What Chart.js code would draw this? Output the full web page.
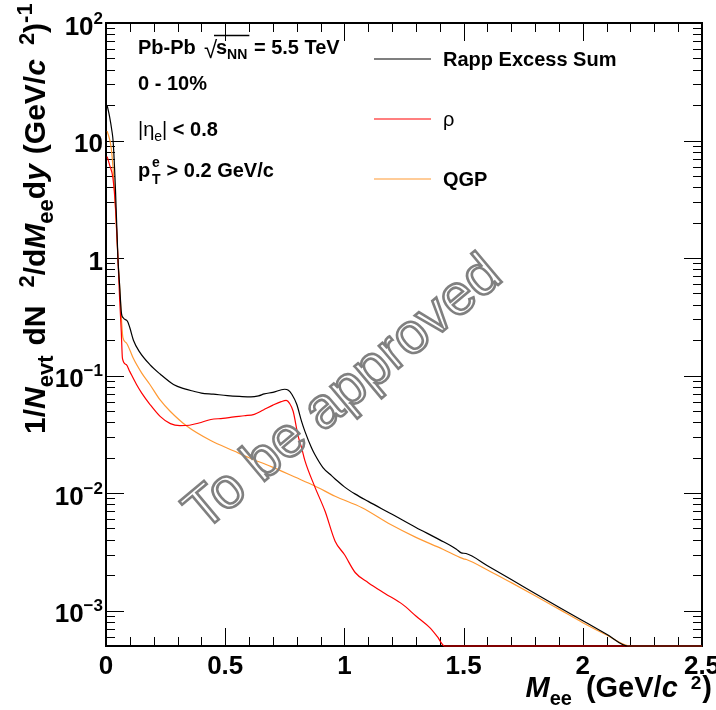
<!DOCTYPE html>
<html>
<head>
<meta charset="utf-8">
<script src="https://cdn.jsdelivr.net/npm/chart.js@4"></script>
<style>
html, body { margin: 0; background: #fff; }
canvas { display: block; }
</style>
</head>
<body>
<canvas id="chart" width="716" height="710"></canvas>
<script>
// Rapp excess sum (black)
const sumMass = [0.005, 0.015, 0.025, 0.03, 0.04, 0.05, 0.058, 0.064, 0.072, 0.09, 0.1, 0.115, 0.14, 0.184, 0.227, 0.283, 0.33, 0.368, 0.4, 0.45, 0.509, 0.56, 0.608, 0.64, 0.664, 0.7, 0.749, 0.765, 0.78, 0.8, 0.82, 0.834, 0.862, 0.876, 0.91, 0.947, 0.961, 1.0, 1.046, 1.1, 1.2, 1.3, 1.4, 1.47, 1.49, 1.51, 1.6, 1.7, 1.8, 1.9, 2.0, 2.1, 2.19, 2.25, 2.5];
const sumVals = [19.8, 16, 12, 9.8, 3.7, 1.0, 0.55, 0.35, 0.31, 0.29, 0.255, 0.2, 0.16, 0.124, 0.103, 0.084, 0.077, 0.0735, 0.071, 0.0695, 0.0676, 0.0665, 0.0658, 0.0672, 0.0698, 0.072, 0.0765, 0.075, 0.069, 0.057, 0.041, 0.0337, 0.0243, 0.0213, 0.0165, 0.014, 0.0132, 0.0113, 0.0098, 0.0085, 0.0066, 0.0051, 0.004, 0.00333, 0.0031, 0.00306, 0.00241, 0.00184, 0.0014, 0.00107, 0.00082, 0.00063, 0.0005, 0.0005, 0.0005];

// rho (red)
const rhoMass = [0.005, 0.015, 0.029, 0.04, 0.05, 0.057, 0.064, 0.069, 0.085, 0.1, 0.128, 0.15, 0.184, 0.227, 0.27, 0.31, 0.35, 0.39, 0.44, 0.49, 0.537, 0.58, 0.622, 0.66, 0.7, 0.735, 0.756, 0.77, 0.785, 0.806, 0.82, 0.834, 0.876, 0.919, 0.961, 1.0, 1.046, 1.1, 1.17, 1.244, 1.3, 1.357, 1.39, 1.42, 2.5];
const rhoVals = [7.3, 6.2, 4.8, 2.65, 1.0, 0.46, 0.24, 0.14, 0.124, 0.108, 0.084, 0.071, 0.057, 0.045, 0.039, 0.0375, 0.0378, 0.0395, 0.0423, 0.0432, 0.0445, 0.0455, 0.0468, 0.051, 0.056, 0.06, 0.0614, 0.058, 0.0497, 0.0305, 0.0245, 0.019, 0.0113, 0.007, 0.0039, 0.003, 0.0021, 0.00173, 0.0014, 0.00113, 0.0009, 0.00072, 0.0006, 0.0005, 0.0005];

// QGP (orange)
const qgpMass = [0.005, 0.022, 0.036, 0.05, 0.06, 0.071, 0.085, 0.1, 0.114, 0.15, 0.184, 0.227, 0.269, 0.34, 0.439, 0.537, 0.6, 0.693, 0.792, 0.876, 0.961, 1.074, 1.194, 1.3, 1.413, 1.484, 1.5, 1.512, 1.6, 1.7, 1.8, 1.9, 2.0, 2.1, 2.2, 2.5];
const qgpVals = [12, 8.6, 3.7, 1.0, 0.46, 0.21, 0.19, 0.165, 0.141, 0.105, 0.084, 0.062, 0.0497, 0.037, 0.028, 0.0228, 0.02, 0.0168, 0.0137, 0.0115, 0.0094, 0.0075, 0.0054, 0.0042, 0.00333, 0.00284, 0.00276, 0.00272, 0.00222, 0.00173, 0.00134, 0.00103, 0.00079, 0.00062, 0.0005, 0.0005];

const seriesNames = ['Rapp Excess Sum', '\u03C1', 'QGP'];
const seriesColors = ['#000000', '#ff0000', '#ff9933'];

const xMajor = [0, 0.5, 1, 1.5, 2, 2.5];
const xLabels = ['0', '0.5', '1', '1.5', '2', '2.5'];
const yDecades = [1e-3, 1e-2, 1e-1, 1, 10, 100];
const yLabels = [['10', '\u22123'], ['10', '\u22122'], ['10', '\u22121'], ['1', ''], ['10', ''], ['10', '2']];

const F = '"Liberation Sans", Arial, Helvetica, sans-serif';
const B = sz => 'bold ' + sz + 'px ' + F;
const BI = sz => 'italic bold ' + sz + 'px ' + F;
const R = sz => sz + 'px ' + F;

const pts = (xs, ys) => xs.map((x, i) => ({ x: x, y: ys[i] }));

// draw a run of text pieces, each with its own font and vertical shift; {w} is a gap
function rich(ctx, parts, x, y, align) {
    const width = p => p.w !== undefined ? p.w : (ctx.font = p.f, ctx.measureText(p.t).width);
    let w = 0;
    parts.forEach(p => { w += width(p); });
    let cx = align === 'right' ? x - w : x;
    parts.forEach(p => {
        const pw = width(p);
        if (p.t) ctx.fillText(p.t, cx, y + (p.dy || 0));
        cx += pw;
    });
    return cx;
}

const frame = {
    id: 'frame',
    beforeDatasetsDraw(chart) {
        const { ctx, chartArea: a, scales: { x, y } } = chart;
        ctx.save();
        ctx.strokeStyle = '#000';
        ctx.lineWidth = 1;
        ctx.beginPath();
        // x ticks, bottom and top, pointing inward
        for (let i = 0; i <= 25; i++) {
            const v = i / 10;
            const px = Math.round(x.getPixelForValue(v)) + 0.5;
            const len = i % 5 === 0 ? 18 : 9;
            ctx.moveTo(px, a.bottom); ctx.lineTo(px, a.bottom - len);
            ctx.moveTo(px, a.top); ctx.lineTo(px, a.top + len);
        }
        // y ticks, left and right
        for (let e = -4; e <= 2; e++) {
            for (let k = 1; k <= 9; k++) {
                const v = k * Math.pow(10, e);
                if (v < y.min * 0.999 || v > y.max * 1.001) continue;
                const py = Math.round(y.getPixelForValue(v)) + 0.5;
                const len = k === 1 ? 18 : 9;
                ctx.moveTo(a.left, py); ctx.lineTo(a.left + len, py);
                ctx.moveTo(a.right, py); ctx.lineTo(a.right - len, py);
            }
        }
        ctx.stroke();
        ctx.lineWidth = 2;
        ctx.strokeRect(a.left, a.top, a.right - a.left, a.bottom - a.top);

        // tick labels
        ctx.fillStyle = '#000';
        ctx.textBaseline = 'alphabetic';
        ctx.textAlign = 'center';
        ctx.font = B(26);
        xMajor.forEach((v, i) => ctx.fillText(xLabels[i], x.getPixelForValue(v), 674));
        ctx.textAlign = 'left';
        yDecades.forEach((v, i) => {
            const py = y.getPixelForValue(v) + 11.5;
            const parts = [{ t: yLabels[i][0], f: B(26) }];
            if (yLabels[i][1]) parts.push({ t: yLabels[i][1], f: B(17), dy: -11 });
            rich(ctx, parts, 103, py, 'right');
        });

        // axis titles
        rich(ctx, [
            { t: 'M', f: BI(29) },
            { t: 'ee', f: B(20), dy: 8 },
            { w: 14 },
            { t: '(GeV/', f: B(29) },
            { t: 'c', f: BI(29) },
            { w: 13 },
            { t: '2', f: B(19), dy: -8 },
            { w: 1 },
            { t: ')', f: B(29) }
        ], 712, 697, 'right');

        ctx.save();
        ctx.translate(45, 434);
        ctx.rotate(-Math.PI / 2);
        rich(ctx, [
            { t: '1/', f: B(30) },
            { t: 'N', f: BI(30) },
            { t: 'evt', f: B(22), dy: 8 },
            { w: 10 },
            { t: 'dN', f: B(30) },
            { w: 18 },
            { t: '2', f: B(22), dy: -11 },
            { t: '/d', f: B(30) },
            { t: 'M', f: BI(30) },
            { t: 'ee', f: B(22), dy: 8 },
            { t: 'd', f: B(30) },
            { t: 'y', f: BI(30) },
            { w: 10 },
            { t: '(GeV/', f: B(30) },
            { t: 'c', f: BI(30) },
            { w: 14 },
            { t: '2', f: B(22), dy: -11 },
            { t: ')', f: B(30) },
            { t: '-1', f: B(22), dy: -13 }
        ], 0, 0, 'left');
        ctx.restore();

        // annotations
        rich(ctx, [{ t: 'Pb-Pb', f: B(20) }], 138, 54);
        ctx.font = R(24);
        ctx.fillText('\u221A', 204, 58);
        const end = rich(ctx, [
            { t: 's', f: B(20) },
            { t: 'NN', f: B(14), dy: 5 }
        ], 216, 54);
        ctx.lineWidth = 1.5;
        ctx.beginPath();
        ctx.moveTo(214, 35.5); ctx.lineTo(end + 2, 35.5);
        ctx.stroke();
        rich(ctx, [{ t: ' = 5.5 TeV', f: B(20) }], end + 1, 54);
        rich(ctx, [{ t: '0 - 10%', f: B(20) }], 138, 90);
        rich(ctx, [
            { t: '|\u03B7', f: R(20) },
            { t: 'e', f: R(14), dy: 5 },
            { t: '|', f: R(20) },
            { t: ' < 0.8', f: B(20) }
        ], 138, 136);
        ctx.font = B(20);
        ctx.fillText('p', 138, 177);
        ctx.font = B(14);
        ctx.fillText('e', 152, 167);
        ctx.fillText('T', 152, 184);
        rich(ctx, [{ t: ' > 0.2 GeV/c', f: B(20) }], 161, 177);
        ctx.restore();
    },
    afterDatasetsDraw(chart) {
        const { ctx } = chart;
        ctx.save();
        // legend
        const rows = [59, 119, 179];
        seriesNames.forEach((name, i) => {
            ctx.strokeStyle = seriesColors[i];
            ctx.lineWidth = 1.2;
            ctx.beginPath();
            ctx.moveTo(374, rows[i]); ctx.lineTo(431, rows[i]);
            ctx.stroke();
            ctx.fillStyle = '#000';
            ctx.font = name === '\u03C1' ? R(20) : B(20);
            ctx.textAlign = 'left';
            ctx.fillText(name, 443, rows[i] + 7);
        });
        // watermark
        ctx.translate(354, 406);
        ctx.rotate(-40 * Math.PI / 180);
        ctx.font = R(57);
        ctx.textAlign = 'center';
        ctx.strokeStyle = '#808080';
        ctx.lineWidth = 2.6;
        ctx.strokeText('To be approved', 0, 0);
        ctx.restore();
    }
};

new Chart(document.getElementById('chart'), {
    type: 'line',
    data: {
        datasets: [
            { label: seriesNames[0], data: pts(sumMass, sumVals), borderColor: seriesColors[0] },
            { label: seriesNames[1], data: pts(rhoMass, rhoVals), borderColor: seriesColors[1] },
            { label: seriesNames[2], data: pts(qgpMass, qgpVals), borderColor: seriesColors[2] }
        ]
    },
    options: {
        responsive: false,
        animation: false,
        layout: { padding: { left: 106, right: 14, top: 23, bottom: 64 } },
        datasets: { line: { clip: 3 } },
        elements: {
            line: { borderWidth: 1.2, cubicInterpolationMode: 'monotone' },
            point: { radius: 0 }
        },
        plugins: { legend: { display: false }, tooltip: { enabled: false } },
        scales: {
            x: { type: 'linear', min: 0, max: 2.5, display: false },
            y: { type: 'logarithmic', min: 5e-4, max: 100, display: false }
        }
    },
    plugins: [frame]
});
</script>
</body>
</html>
